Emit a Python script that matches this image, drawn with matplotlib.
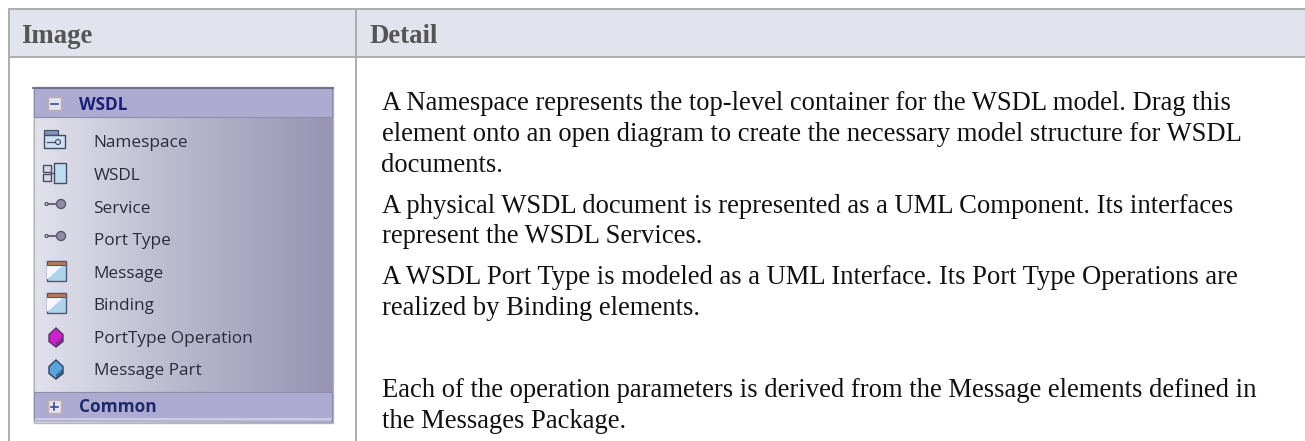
import numpy as np
import matplotlib
matplotlib.use('Agg')
import matplotlib.pyplot as plt
from matplotlib.colors import LinearSegmentedColormap
from matplotlib.patches import Rectangle, Polygon, Circle

# Table text
headers = ['Image', 'Detail']
header_x = [21.5, 370]
detail_lines = [
    'A Namespace represents the top-level container for the WSDL model. Drag this',
    'element onto an open diagram to create the necessary model structure for WSDL',
    'documents.',
    'A physical WSDL document is represented as a UML Component. Its interfaces',
    'represent the WSDL Services.',
    'A WSDL Port Type is modeled as a UML Interface. Its Port Type Operations are',
    'realized by Binding elements.',
    'Each of the operation parameters is derived from the Message elements defined in',
    'the Messages Package.',
]
detail_y = [110, 141, 172, 213, 243, 284, 315, 397, 428]

# Toolbox panel
panel_items = ['Namespace', 'WSDL', 'Service', 'Port Type', 'Message', 'Binding',
               'PortType Operation', 'Message Part']
panel_y = [147, 180, 213, 245, 278, 310, 343, 375]
icon_y = [139, 173, 204, 236, 270.5, 303, 337.5, 369.5]
icon_kinds = ['ns', 'comp', 'iface', 'iface', 'win', 'win', 'purple', 'blue']

fig = plt.figure(figsize=(13.05, 4.41), dpi=100)
ax = fig.add_axes([0, 0, 1, 1])
ax.set_xlim(0, 1305)
ax.set_ylim(441, 0)
ax.axis('off')

border = '#adadad'
ax.add_patch(Rectangle((9, 9), 1296, 48, fc='#e1e4ec', ec='none', zorder=0))
ax.plot([9, 1305], [9, 9], color=border, lw=1.4)
ax.plot([9, 1305], [57, 57], color=border, lw=1.4)
ax.plot([9, 9], [9, 441], color=border, lw=1.4)
ax.plot([356, 356], [9, 441], color=border, lw=1.4)
ax.plot([1304.5, 1304.5], [58, 441], color='#f0f0f0', lw=0.8)

serif = 'Liberation Serif'
for label, x in zip(headers, header_x):
    ax.text(x, 43, label, family=serif, fontsize=19.3, fontweight='bold', color='#555555', va='baseline')
for line, y in zip(detail_lines, detail_y):
    ax.text(381.5, y, line, family=serif, fontsize=19.2, color='#111111', va='baseline')

# Panel background gradient
cmap = LinearSegmentedColormap.from_list('panel', ['#e2e2ec', '#b9b7cd', '#9794b4'])
grad = np.linspace(0, 1, 300).reshape(1, -1)
ax.imshow(grad, cmap=cmap, extent=[33, 333, 423, 87], aspect='auto', zorder=1)
ax.set_xlim(0, 1305)
ax.set_ylim(441, 0)
ax.add_patch(Rectangle((33.5, 87), 299, 336, fc='none', ec='#b4b4c0', lw=1, zorder=2))

# Group headers
ax.add_patch(Rectangle((34, 88), 298, 29, fc='#aeabd2', ec='#8f8dac', lw=0.8, zorder=2))
ax.add_patch(Rectangle((34, 392), 298, 27, fc='#aeabd2', ec='#8f8dac', lw=0.8, zorder=2))
ax.add_patch(Rectangle((35, 419), 296, 3, fc='#b6b4d4', ec='none', zorder=2))
ax.plot([33, 333], [88, 88], color='#6e6c88', lw=1.3, zorder=3)
ax.plot([36, 331], [418.5, 418.5], color='#d4d3e4', lw=1.2, zorder=3)

sans = 'Open Sans'
ax.text(79, 110, 'WSDL', family=sans, fontsize=12.4, fontweight='bold', color='#1c1f78', va='baseline', zorder=4)
ax.text(79, 412, 'Common', family=sans, fontsize=12.4, fontweight='bold', color='#1c2a68', va='baseline', zorder=4)
for cy, sign in [(103.5, '-'), (406.5, '+')]:
    ax.add_patch(Rectangle((47.5, cy - 6.5), 13, 13, fc='#e4e3f0', ec='#bcaeb2', lw=1, zorder=4))
    ax.plot([50.5, 57.5], [cy, cy], color='#3a4a90', lw=1.2, zorder=5)
    if sign == '+':
        ax.plot([54, 54], [cy - 3.5, cy + 3.5], color='#3a4a90', lw=1.2, zorder=5)

for name, y, iy, kind in zip(panel_items, panel_y, icon_y, icon_kinds):
    ax.text(93.5, y, name, family=sans, fontsize=12.4, color='#2c2a3c', va='baseline', zorder=4)
    if kind == 'ns':
        ax.add_patch(Rectangle((44, iy - 9), 14, 5, fc='#7d93b8', ec='#444a68', lw=0.8, zorder=4))
        ax.add_patch(Rectangle((44, iy - 4), 21, 13, fc='#cfe0f2', ec='#444a68', lw=1, zorder=4))
        ax.plot([47, 56], [iy + 3, iy + 3], color='#444a68', lw=0.9, zorder=5)
        ax.add_patch(Circle((58, iy + 3), 2.5, fc='#d8d8e8', ec='#444a68', lw=0.8, zorder=5))
    elif kind == 'comp':
        ax.add_patch(Rectangle((54, iy - 10), 12, 20, fc='#bcdcf0', ec='#4a4a68', lw=1, zorder=4))
        for oy in (-8, 1):
            ax.add_patch(Rectangle((43, iy + oy), 8, 7, fc='#d8d8e4', ec='#4a4a68', lw=1, zorder=5))
        ax.plot([51, 54], [iy, iy], color='#4a4a68', lw=1, zorder=5)
    elif kind == 'iface':
        ax.plot([46, 60], [iy, iy], color='#45455a', lw=1.1, zorder=4)
        ax.add_patch(Circle((46.5, iy), 1.5, fc='#eeeeee', ec='#45455a', lw=0.8, zorder=5))
        ax.add_patch(Circle((61, iy), 4.5, fc='#8f8ca4', ec='#5a5870', lw=1, zorder=5))
    elif kind == 'win':
        ax.add_patch(Rectangle((46.5, iy - 10), 19, 20, fc='#aed4ea', ec='#555570', lw=1, zorder=4))
        ax.add_patch(Polygon([(47, iy - 6), (64, iy - 6), (47, iy + 9)], fc='#f4f6fa', ec='none', zorder=5))
        ax.add_patch(Rectangle((46.5, iy - 10), 19, 4, fc='#b27a5a', ec='#555570', lw=0.8, zorder=6))
    else:
        fill, dark = ('#cc22cc', '#553366') if kind == 'purple' else ('#5ca4dc', '#2c4468')
        ax.add_patch(Polygon([(56, iy - 9.5), (63, iy - 3), (63, iy + 4), (56, iy + 9.5), (49, iy + 4), (49, iy - 3)],
                             fc=fill, ec=dark, lw=1, zorder=4))
        ax.add_patch(Polygon([(63, iy - 1), (63, iy + 4), (56, iy + 9.5), (56, iy + 5)],
                             fc=dark, ec='none', alpha=0.6, zorder=5))

fig.savefig('out.png', dpi=100)
